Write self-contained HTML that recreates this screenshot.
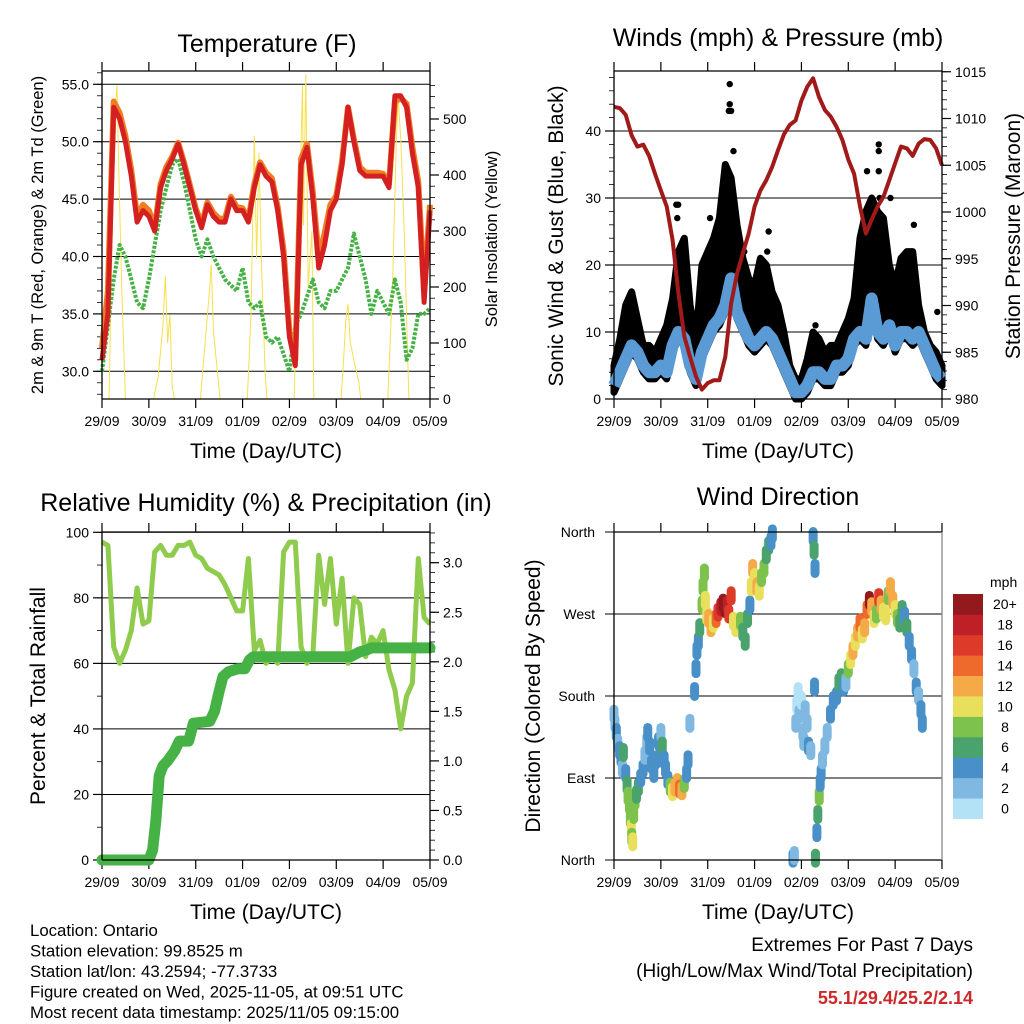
<!DOCTYPE html>
<html><head><meta charset="utf-8"><style>
html,body{margin:0;padding:0;background:#fff;}
svg{display:block;font-family:"Liberation Sans",sans-serif;}
</style></head><body>
<svg id="c" width="1024" height="1024" viewBox="0 0 1024 1024" xmlns="http://www.w3.org/2000/svg"></svg>
<script>
// ---------- DATA ----------
const dayLabels = ["29/09","30/09","31/09","01/09","02/09","03/09","04/09","05/09"];
const tStep = [0,0.125,0.25,0.375,0.5,0.625,0.75,0.875,1,1.125,1.25,1.375,1.5,1.625,1.75,1.875,2,2.125,2.25,2.375,2.5,2.625,2.75,2.875,3,3.125,3.25,3.375,3.5,3.625,3.75,3.875,4,4.125,4.25,4.375,4.5,4.625,4.75,4.875,5,5.125,5.25,5.375,5.5,5.625,5.75,5.875,6,6.125,6.25,6.375,6.5,6.625,6.75,6.875,7];
const temp2m = [31,35,53,52,50,47,43,44,43.5,42.2,46,47.5,48.5,49.8,48,46,44,42.5,44.5,43.5,43,43,45,44,44,43,46,48,47,46.5,44,40,33,30.5,48,49.5,45,39,41,44,45,48,53,50,47.5,47,47,47,47,46,54,54,53,49,46,36,44];
const temp9m = [32,37,53.5,52.5,50.5,47.5,43.5,44.5,44,42.5,46.3,47.8,48.7,49.9,48.2,46.2,44.2,42.8,44.7,43.8,43.3,43.3,45.2,44.3,44.2,43.2,46.3,48.2,47.3,46.8,44.3,40.5,33.5,31,48.5,49.8,45.5,40,42,44.5,45.3,48.3,53,50.2,47.8,47.3,47.3,47.3,47.2,46.3,53.5,53.8,53.3,49.5,46.5,37,44.5];
const dewpt = [30,34,38,41,40,38,36,35.5,38,41,44,46,48,48.5,46.5,44,41.5,40,41.5,40,39,38,37.5,37,39,36,35.5,36,33,32.5,33,31.5,30,34,35,36.5,38,36,35.5,37,37,38,39,42,40,38,35,37,36,35,38,36,31,32,35,35,35.5];
const solarT = [0,0.15,0.22,0.28,0.32,0.36,0.42,0.5,1.1,1.2,1.3,1.35,1.4,1.45,1.5,1.55,2.1,2.2,2.3,2.33,2.38,2.45,2.52,3.1,3.18,3.25,3.3,3.35,3.4,3.48,3.52,4.1,4.2,4.28,4.3,4.35,4.4,4.48,4.52,5.1,5.15,5.2,5.25,5.3,5.35,5.4,5.48,5.52,6.1,6.2,6.28,6.32,6.38,6.45,6.55,7];
const solarV = [0,0,300,520,560,400,200,0,0,40,130,220,100,150,20,0,0,100,200,240,120,60,0,0,150,470,250,440,250,50,0,0,300,560,310,580,200,300,0,0,60,140,170,100,80,60,30,0,0,200,460,540,460,300,0,0];
const windSpd = [2,4,6,8,7,5,4,4,5,4,8,10,9,5,3,7,9,11,12,14,18,13,11,9,8,9,10,9,7,5,3,1,1,2,4,4,3,3,5,5,6,9,10,9,15,10,9,11,8,10,10,9,10,8,6,4,3];
const gustEnv = [5,9,14,16,12,8,8,7,9,11,15,22,24,14,9,20,22,24,27,35,33,26,21,18,17,21,20,16,14,10,5,3,3,6,10,9,7,8,8,10,12,15,24,28,30,28,27,20,17,21,22,22,14,10,8,7,5];
const gustOutT = [1.33,1.37,1.35,2.47,2.47,2.45,2.5,2.55,2.05,2.78,3.27,3.3,4.3,5.4,5.65,5.65,5.65,5.67,5.9,6.4,6.9];
const gustOutV = [29,29,27,47,44,43,43,37,27,22,22,25,11,34,38,37,34,30,30,26,13];
const pressure = [1011.25,1011.1,1010.4,1008.2,1007,1007.2,1006,1004.1,1002.3,1000.6,997,991.3,986.7,984.5,982.4,981,981.7,982,982,984.5,990.2,993.4,995.6,997.7,1000.6,1002.3,1003.4,1004.8,1006.6,1008.3,1009.3,1009.8,1011.9,1013.4,1014.3,1012.3,1010.9,1010.2,1009.1,1007.7,1005.6,1004.1,1000.6,997.7,999.2,1000.6,1001.6,1003.4,1005.2,1007,1006.8,1006,1007.3,1007.8,1007.7,1006.8,1005];
const relHum = [97,96,65,60,64,70,83,72,73,94,96,93,93,96,96,97,93,92,89,88,87,84,80,76,76,92,64,67,60,62,60,94,97,97,65,60,63,93,78,92,72,86,60,80,78,62,68,66,70,58,52,40,50,54,92,74,72];
const rainT = [0,1.0,1.08,1.15,1.22,1.3,1.4,1.55,1.65,1.85,1.95,2.3,2.4,2.5,2.58,2.7,2.9,3.05,3.15,3.23,5.3,5.5,5.65,5.75,7.0];
const rainV = [0,0,0.1,0.4,0.85,0.95,1.0,1.1,1.2,1.2,1.38,1.4,1.5,1.7,1.85,1.9,1.93,1.93,2.02,2.05,2.05,2.1,2.12,2.14,2.14];
const dirT = [0,0.02,0.05,0.08,0.12,0.15,0.18,0.2,0.25,0.28,0.3,0.33,0.35,0.37,0.38,0.4,0.42,0.45,0.48,0.52,0.57,0.62,0.66,0.7,0.72,0.76,0.8,0.85,0.9,0.95,1,1.03,1.07,1.1,1.15,1.2,1.25,1.3,1.35,1.4,1.45,1.5,1.55,1.58,1.62,1.72,1.75,1.77,1.8,1.83,1.88,1.9,1.93,1.95,1.98,2.02,2.07,2.12,2.18,2.22,2.28,2.33,2.37,2.42,2.45,2.5,2.55,2.6,2.65,2.7,2.75,2.8,2.85,2.9,2.93,2.96,3,3.05,3.1,3.15,3.2,3.25,3.3,3.35,3.38,3.82,3.85,3.88,3.9,3.93,3.95,4,4.03,4.05,4.08,4.12,4.15,4.2,4.25,4.27,4.29,4.28,4.3,4.33,4.35,4.38,4.4,4.42,4.45,4.5,4.55,4.62,4.68,4.75,4.8,4.85,4.9,4.95,5,5.05,5.1,5.15,5.2,5.25,5.3,5.35,5.4,5.45,5.5,5.55,5.6,5.65,5.7,5.75,5.8,5.85,5.9,5.95,6,6.05,6.1,6.15,6.2,6.25,6.3,6.35,6.4,6.45,6.5,6.55,6.58];
const dirDeg = [160,150,140,128,120,112,100,118,95,82,70,60,45,35,25,20,50,65,72,80,90,100,115,130,140,125,105,95,110,130,140,125,110,100,88,80,75,80,85,78,76,84,95,110,150,185,210,230,240,255,280,300,315,285,268,265,255,260,265,272,278,282,276,280,270,290,262,255,258,262,250,240,265,280,300,320,310,300,295,310,320,335,345,350,358,2,5,150,170,185,160,175,140,130,165,150,125,120,355,340,320,190,2,30,50,70,85,95,110,125,140,160,175,180,195,200,190,195,210,220,230,240,250,260,248,255,275,285,278,265,270,288,280,272,268,290,300,285,275,265,260,275,268,255,240,225,210,190,180,165,150];
const dirSpd = [3,2,4,3,4,4,3,6,4,6,8,8,9,10,8,10,8,8,7,6,5,4,3,3,4,4,4,4,5,4,3,6,5,4,5,8,10,12,13,14,12,9,5,4,3,4,4,4,5,6,8,9,8,10,11,12,12,10,14,16,18,20,20,18,17,16,11,10,10,9,7,6,6,5,11,12,11,12,10,9,8,7,6,5,4,4,3,2,1,1,2,1,2,3,2,3,4,3,4,6,5,4,7,4,6,8,4,5,3,2,3,4,4,5,6,6,4,3,9,10,12,11,13,15,10,12,14,20,12,10,9,16,12,11,10,9,13,12,10,9,7,6,5,6,4,4,3,4,3,4,4];
const spdColors = ["#b3e2f7","#7fb9e2","#4a90c8","#4aa36c","#7cc24c","#e8e05c","#f5aa48","#ee6a2c","#dd3a2a","#bf1f27","#921a1c"];
const spdLabels = ["0","2","4","6","8","10","12","14","16","18","20+"];

// ---------- HELPERS ----------
const svg = document.getElementById('c');
const NS = "http://www.w3.org/2000/svg";
function mk(tag, attrs, parent){
  const e = document.createElementNS(NS, tag);
  for (const k in attrs) e.setAttribute(k, attrs[k]);
  (parent||svg).appendChild(e);
  return e;
}
function txt(s, x, y, size, anchor, name, extra){
  const e = mk('text', Object.assign({x:x, y:y, 'font-size':size, 'text-anchor':anchor||'start', fill:'#000'}, extra||{}));
  e.textContent = s;
  
  
  return e;
}
function line(x1,y1,x2,y2,stroke,w,name){
  const e = mk('line',{x1:x1,y1:y1,x2:x2,y2:y2,stroke:stroke,'stroke-width':w});
  
  
  return e;
}
function pathFrom(xs, ys){
  let d = '';
  for (let i=0;i<xs.length;i++) d += (i?'L':'M') + xs[i].toFixed(1) + ' ' + ys[i].toFixed(1);
  return d;
}
function frame(p, key){
  const xScale = t => p.L + (p.R - p.L) * t / 7;
  for (let d=0; d<=7; d++){
    const x = xScale(d);
    line(x, p.T, x, p.T-9, '#000', 1.2, key+'-top-tick');
    line(x, p.B, x, p.B+9, '#000', 1.2, key+'-bottom-tick');
    txt(dayLabels[d], x, p.B+27, 14, 'middle', key+'-x-tick-label');
  }
  txt('Time (Day/UTC)', (p.L+p.R)/2, p.B+59, 21, 'middle', key+'-x-axis-title');
  return xScale;
}
function yAxis(p, key, ticks, fmt, scale, side, minorStep, minorFrom, minorTo, grid){
  for (const v of ticks){
    const y = scale(v);
    if (grid) line(p.L, y, p.R, y, '#000', 1, key+'-gridline');
    if (side==='left'){
      line(p.L-9, y, p.L, y, '#000', 1.2, key+'-left-tick');
      txt(fmt(v), p.L-13, y+5, 14, 'end', key+'-left-tick-label');
    } else {
      line(p.R, y, p.R+9, y, '#000', 1.2, key+'-right-tick');
      txt(fmt(v), p.R+13, y+5, 14, 'start', key+'-right-tick-label');
    }
  }
  if (minorStep){
    for (let v=minorFrom; v<=minorTo+1e-9; v+=minorStep){
      const y = scale(v);
      if (side==='left') line(p.L-5, y, p.L, y, '#000', 0.8, key+'-left-minor-tick');
      else line(p.R, y, p.R+5, y, '#000', 0.8, key+'-right-minor-tick');
    }
  }
}
function box(p, key, rightColor){
  line(p.L, p.T, p.R, p.T, '#000', 1.3, key+'-top-border');
  line(p.L, p.B, p.R, p.B, '#000', 1.3, key+'-bottom-border');
  line(p.L, p.T, p.L, p.B, '#000', 1.3, key+'-left-border');
  line(p.R, p.T, p.R, p.B, rightColor||'#000', 1.3, key+'-right-border');
}

// ---------- PANEL 1: TEMPERATURE ----------
(function(){
  const p = {L:102, R:430, T:71, B:399};
  const x = frame(p, 'temp');
  const yT = v => 371.3 - (v-30)*57.4/5;
  const yS = v => 399 - v*0.56;
  yAxis(p,'temp',[30,35,40,45,50,55],v=>v.toFixed(1),yT,'left',1,28,56,true);
  yAxis(p,'temp',[0,100,200,300,400,500],v=>String(v),yS,'right',20,0,560,false);
  let e = mk('path',{d:pathFrom(solarT.map(x), solarV.map(yS)), fill:'none', stroke:'#f7e04a', 'stroke-width':1});
  
  
  e = mk('path',{d:pathFrom(tStep.map(x), dewpt.map(yT)), fill:'none', stroke:'#46b246', 'stroke-width':4, 'stroke-dasharray':'3 1.5', 'stroke-linejoin':'round'});
  
  
  e = mk('path',{d:pathFrom(tStep.map(x), temp9m.map(yT)), fill:'none', stroke:'#f07c24', 'stroke-width':6, 'stroke-linejoin':'round'});
  
  
  e = mk('path',{d:pathFrom(tStep.map(x), temp2m.map(yT)), fill:'none', stroke:'#d42020', 'stroke-width':5, 'stroke-linejoin':'round'});
  
  
  box(p,'temp');
  txt('Temperature (F)', 267, 52, 25, 'middle', 'temperature-title');
  txt('2m & 9m T (Red, Orange) & 2m Td (Green)', 0, 0, 16.5, 'middle', 'temperature-y-axis-title', {transform:'translate(43,235) rotate(-90)'});
  txt('Solar Insolation (Yellow)', 0, 0, 16.5, 'middle', 'solar-y-axis-title', {transform:'translate(497,239) rotate(-90)'});
})();

// ---------- PANEL 2: WINDS & PRESSURE ----------
(function(){
  const p = {L:614, R:942, T:71, B:399};
  const x = frame(p, 'wind');
  const yW = v => 399 - v*6.7;
  const yP = v => 399 - (v-980)*9.35;
  yAxis(p,'wind',[0,10,20,30,40],v=>String(v),yW,'left',2,0,48,true);
  yAxis(p,'wind',[980,985,990,995,1000,1005,1010,1015],v=>String(v),yP,'right',1,980,1015,false);
  const xs = tStep.map(x);
  let d = pathFrom(xs, gustEnv.map(yW));
  for (let i=xs.length-1;i>=0;i--) d += 'L'+xs[i].toFixed(1)+' '+yW(Math.max(windSpd[i]-1,0)).toFixed(1);
  let e = mk('path',{d:d+'Z', fill:'#000', stroke:'#000', 'stroke-width':7, 'stroke-linejoin':'round'});
  
  
  for (let i=0;i<gustOutT.length;i++){
    const c = mk('circle',{cx:x(gustOutT[i]), cy:yW(gustOutV[i]), r:3.2, fill:'#000'});
    
    
  }
  e = mk('path',{d:pathFrom(xs, windSpd.map(yW)), fill:'none', stroke:'#5b9bd5', 'stroke-width':12, 'stroke-linejoin':'round'});
  
  
  e = mk('path',{d:pathFrom(xs, pressure.map(yP)), fill:'none', stroke:'#a01a1a', 'stroke-width':4, 'stroke-linejoin':'round'});
  
  
  box(p,'wind');
  txt('Winds (mph) & Pressure (mb)', 778, 46, 25, 'middle', 'winds-title');
  txt('Sonic Wind & Gust (Blue, Black)', 0, 0, 21, 'middle', 'wind-y-axis-title', {transform:'translate(563,236) rotate(-90)'});
  txt('Station Pressure (Maroon)', 0, 0, 21, 'middle', 'pressure-y-axis-title', {transform:'translate(1020,236) rotate(-90)'});
})();

// ---------- PANEL 3: RH & PRECIP ----------
(function(){
  const p = {L:102, R:430, T:532, B:860};
  const x = frame(p, 'rh');
  const yR = v => 860 - v*3.277;
  const yP = v => 860 - v*99.1;
  yAxis(p,'rh',[0,20,40,60,80,100],v=>String(v),yR,'left',10,0,100,true);
  yAxis(p,'rh',[0,0.5,1,1.5,2,2.5,3],v=>v.toFixed(1),yP,'right',0.1,0,3.3,false);
  let e = mk('path',{d:pathFrom(tStep.map(x), relHum.map(yR)), fill:'none', stroke:'#8fcb4c', 'stroke-width':5, 'stroke-linejoin':'round'});
  
  
  e = mk('path',{d:pathFrom(rainT.map(x), rainV.map(yP)), fill:'none', stroke:'#46b246', 'stroke-width':11, 'stroke-linejoin':'round', 'stroke-linecap':'round'});
  
  
  box(p,'rh');
  txt('Relative Humidity (%) & Precipitation (in)', 266, 511, 25, 'middle', 'humidity-title');
  txt('Percent & Total Rainfall', 0, 0, 21, 'middle', 'rh-y-axis-title', {transform:'translate(45,696) rotate(-90)'});
})();

// ---------- PANEL 4: WIND DIRECTION ----------
(function(){
  const p = {L:614, R:942, T:532, B:860};
  const x = frame(p, 'dir');
  const yD = v => 860 - v*(328/360);
  const names = ['North','East','South','West','North'];
  [0,90,180,270,360].forEach((v,i)=>{
    const y = yD(v);
    line(p.L-9, y, p.R, y, '#000', 1, 'dir-gridline');
    txt(names[i], p.L-19, y+5, 14, 'end', 'dir-tick-label');
  });
  for (let i=0;i<dirT.length;i++){
    const ci = Math.min(10, Math.floor(dirSpd[i]/2));
    const cx = x(dirT[i]), cy = yD(dirDeg[i]);
    const c = mk('line',{x1:cx, y1:cy-5, x2:cx, y2:cy+5, stroke:spdColors[ci], 'stroke-width':9, 'stroke-linecap':'round'});
    
    
  }
  box(p,'dir','#888');
  txt('Wind Direction', 778, 505, 25, 'middle', 'wind-direction-title');
  txt('Direction (Colored By Speed)', 0, 0, 21, 'middle', 'dir-y-axis-title', {transform:'translate(540,696) rotate(-90)'});
  txt('mph', 990, 587, 14, 'start', 'colorbar-unit');
  const h = (818.7-594)/11;
  for (let i=0;i<11;i++){
    const y = 594 + (10-i)*h;
    const r = mk('rect',{x:953, y:y, width:30, height:h+0.3, fill:spdColors[i]});
    
    
    txt(spdLabels[i], i===10?993:1005, y+h/2+5, 14, i===10?'start':'middle', 'colorbar-label');
  }
})();

// ---------- FOOTER TEXT ----------
const info = ["Location: Ontario","Station elevation: 99.8525 m","Station lat/lon: 43.2594; -77.3733","Figure created on Wed, 2025-11-05, at 09:51 UTC","Most recent data timestamp: 2025/11/05 09:15:00"];
info.forEach((s,i)=>txt(s, 30, 936+i*20.5, 16.8, 'start', 'station-info-line'));
txt('Extremes For Past 7 Days', 973, 951, 19, 'end', 'extremes-title');
txt('(High/Low/Max Wind/Total Precipitation)', 973, 977, 19, 'end', 'extremes-subtitle');
txt('55.1/29.4/25.2/2.14', 973, 1004, 18, 'end', 'extremes-values', {fill:'#cc2a2a', 'font-weight':'bold'});
</script>
</body></html>
